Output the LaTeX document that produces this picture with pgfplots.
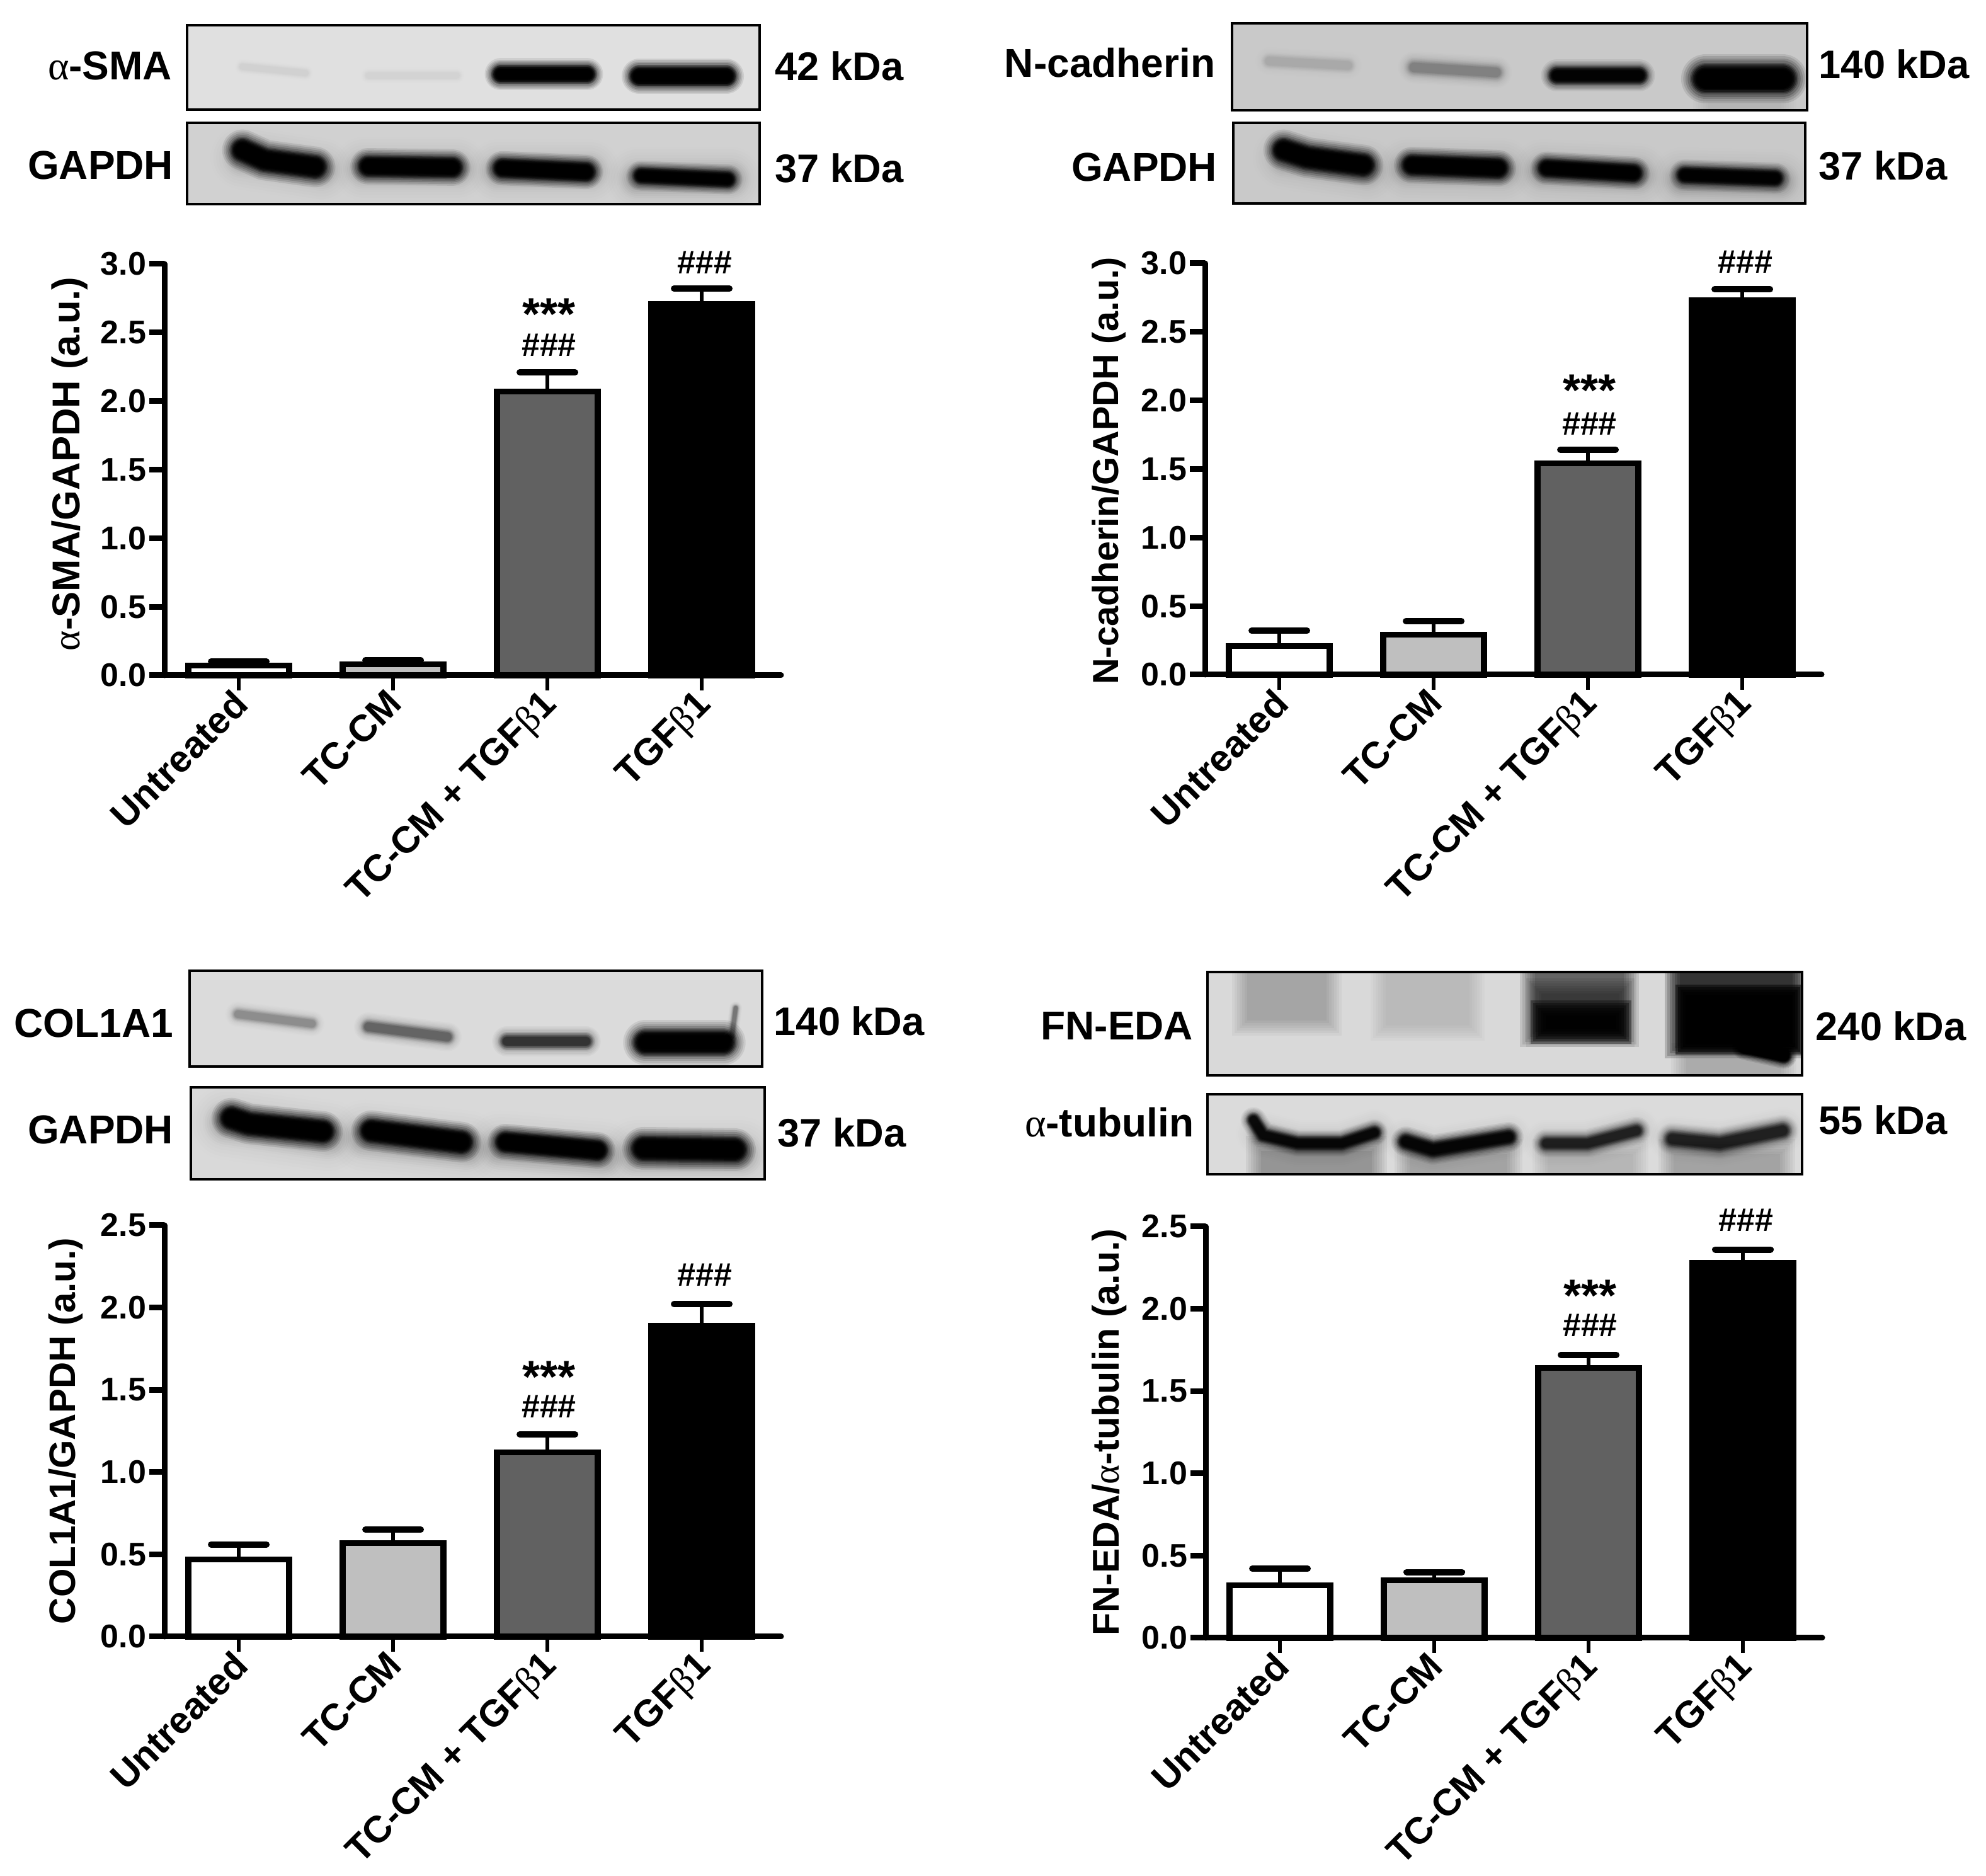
\documentclass[border=0pt]{standalone}
\usepackage{fontspec}
\setmainfont{Liberation Sans}
\newfontfamily\sym{Liberation Serif}
\usepackage{pgfplots}
\pgfplotsset{compat=1.18}
\newcommand\fs[1]{\fontsize{#1}{#1}\selectfont}
\newcommand\al{{\mdseries\sym α}}
\newcommand\be{{\mdseries\sym β}}
\pgfplotsset{
  panel/.style={
    scale only axis, width=244.75pt, height=163.25pt,
    xmin=-0.482, xmax=3.514, ymin=0, clip=false, axis on top,
    anchor=south west,
    axis x line*=bottom, axis y line*=left,
    axis line style={line width=2.25pt, line cap=round, -},
    tick align=outside, major tick length=6pt,
    xtick={0,1,2,3},
    xticklabels={Untreated,TC-CM,TC-CM + TGF\be1,TGF\be1},
    xtick style={line width=1.5pt,black},
    ytick style={line width=2.25pt,black},
    tick pos=left,
    xticklabel style={rotate=45, anchor=north east, font=\bfseries\fs{14.9pt}, inner sep=0pt, xshift=-1.25pt, yshift=3.25pt},
    yticklabel style={font=\bfseries\fs{13pt}, inner sep=0pt, xshift=-1pt,
      /pgf/number format/.cd, fixed, fixed zerofill, precision=1, assume math mode=true},
    ylabel style={anchor=center, inner sep=0pt},
  },
  barp/.style={ybar, bar shift=0pt, bar width=40pt, draw=black, line width=2.3pt,
    error bars/y dir=plus, error bars/y explicit,
    error bars/error bar style={line width=1.5pt,black},
    error bars/error mark options={rotate=90, mark size=11pt, line width=2.5pt, line cap=round, black}},
}
\newcommand\bars[8]{%
  \addplot[barp,fill=white] coordinates {(0,#1) +- (0,#2)};
  \addplot[barp,fill=black!25] coordinates {(1,#3) +- (0,#4)};
  \addplot[barp,fill=black!62] coordinates {(2,#5) +- (0,#6)};
  \addplot[barp,fill=black] coordinates {(3,#7) +- (0,#8)};
}
\newcommand\sig[3]{%
  \node[font=\bfseries\fs{18pt},inner sep=0pt,yshift=-2.6pt] at (axis cs:2.01,#1) {***};
  \node[font=\bfseries\fs{13pt},inner sep=0pt] at (axis cs:2.01,#2) {\#\#\#};
  \node[font=\bfseries\fs{13pt},inner sep=0pt] at (axis cs:3.02,#3) {\#\#\#};
}
% soft-edged smear: outer layers faint, inner layers strong
\newcommand\band[4][round]{%
  \foreach \k/\o in {1.7/.08,1.55/.1,1.4/.12,1.25/.16,1.1/.22,1.0/.3,.9/.4,.8/.5,.7/.6,.6/.7,.5/.8}{%
    \pgfmathsetmacro\oo{min(1,\o*#4*2)}%
    \draw[black,line width=\k*#3*0.25pt,opacity=\oo,line cap=#1,line join=round] #2;}%
}
% soft-edged rectangular lane
\newcommand\lane[5]{%
  \foreach \d in {12,8,4,0,-4,-8,-12}{%
    \fill[black,opacity=#5] ({#1-\d},{#2-\d}) rectangle ({#3+\d},{#4+\d});}%
}
\newcommand\blot[6]{%
  \begin{scope}
    \clip (#1,#2) rectangle (#3,#4);
    \fill[#5] (#1,#2) rectangle (#3,#4);
    #6
  \end{scope}
  \draw[line width=1.1pt] (#1,#2) rectangle (#3,#4);
}
\newcommand\lab[3]{\node[anchor=east,font=\bfseries\fs{16pt},inner sep=0pt,xshift=0.75pt] at (#1,#2) {#3};}
\newcommand\kda[3]{\node[anchor=west,font=\bfseries\fs{15.8pt},inner sep=0pt] at (#1,#2) {#3};}
\begin{document}
\begin{tikzpicture}
\path[use as bounding box] (0,0) rectangle (788.25pt,744.5pt);
\begin{scope}[x=0.25pt,y=-0.25pt,yshift=744.5pt]
% --- panel A blots
\blot{297}{40}{1206}{174}{black!12}{%
  \band{(385,106)--(485,116)}{20}{.008}
  \band{(585,120)--(725,120)}{20}{.007}
  \band{(795,118)--(932,118)}{30}{.5}
  \band{(1015,121)--(1153,121)}{33}{.55}
}
\blot{297}{195}{1206}{324}{black!18}{%
  \band{(385,250)--(510,270)}{60}{.03}\band{(578,268)--(725,268)}{60}{.03}
  \band{(792,272)--(935,272)}{60}{.03}\band{(1012,284)--(1160,284)}{60}{.03}
  \band{(385,238)--(420,254)--(500,265)}{38}{.55}
  \band{(585,264)--(718,266)}{34}{.55}
  \band{(798,267)--(930,273)}{32}{.55}
  \band{(1018,279)--(1155,285)}{28}{.45}
}
\lab{271}{105}{\al-SMA}
\kda{1230}{105}{42 kDa}
\lab{273}{263}{GAPDH}
\kda{1230}{267}{37 kDa}
% --- panel B blots
\blot{1956}{37}{2869}{175}{black!21}{%
  \band{(2015,97)--(2140,104)}{26}{.018}
  \band{(2245,107)--(2375,115)}{30}{.05}
  \band{(2472,120)--(2602,120)}{30}{.4}
  \band{(2708,125)--(2830,125)}{46}{.6}
  \lane{2700}{150}{2840}{190}{.012}
}
\blot{1958}{195}{2866}{323}{black!21}{%
  \band{(2040,250)--(2170,270)}{60}{.03}\band{(2235,268)--(2385,270)}{60}{.03}
  \band{(2450,272)--(2600,278)}{60}{.03}\band{(2670,285)--(2825,288)}{60}{.03}
  \band{(2038,238)--(2075,250)--(2164,262)}{38}{.55}
  \band{(2242,262)--(2378,267)}{34}{.55}
  \band{(2456,267)--(2593,275)}{31}{.5}
  \band{(2675,278)--(2818,283)}{29}{.42}
}
\lab{1927}{100}{N-cadherin}
\kda{2887}{102}{140 kDa}
\lab{1930}{265}{GAPDH}
\kda{2887}{263}{37 kDa}
% --- panel C blots
\blot{301}{1541}{1210}{1693}{black!14}{%
  \band{(378,1610)--(495,1625)}{24}{.05}
  \band{(585,1630)--(710,1646)}{27}{.09}
  \band{(805,1653)--(930,1653)}{28}{.16}
  \band{(1025,1655)--(1148,1655)}{42}{.5}
  \band{(1162,1645)--(1168,1600)}{12}{.07}
}
\blot{303}{1726}{1214}{1872}{black!15}{%
  \band{(360,1782)--(520,1805)}{70}{.03}\band{(580,1805)--(740,1822)}{70}{.03}
  \band{(795,1822)--(955,1835)}{70}{.03}\band{(1012,1832)--(1175,1832)}{70}{.03}
  \band{(368,1775)--(395,1784)--(512,1796)}{38}{.6}
  \band{(590,1795)--(732,1813)}{38}{.6}
  \band{(803,1813)--(948,1826)}{34}{.6}
  \band{(1022,1823)--(1166,1825)}{40}{.6}
}
\lab{273}{1624}{COL1A1}
\kda{1228}{1621}{140 kDa}
\lab{273}{1793}{GAPDH}
\kda{1234}{1798}{37 kDa}
% --- panel D blots
\blot{1917}{1543}{2861}{1707}{black!15}{%
  \lane{1968}{1525}{2118}{1632}{.036}
  \lane{2188}{1530}{2345}{1640}{.021}
  \lane{2425}{1525}{2590}{1650}{.10}
  \lane{2435}{1565}{2583}{1650}{.07}
  \lane{2442}{1600}{2578}{1645}{.35}
  \lane{2655}{1525}{2858}{1668}{.18}
  \lane{2672}{1575}{2850}{1662}{.5}
  \band{(2770,1662)--(2832,1676)}{24}{.6}
  \lane{2665}{1668}{2840}{1725}{.03}
}
\blot{1917}{1737}{2861}{1864}{black!14}{%
  \lane{1990}{1815}{2190}{1885}{.05}
  \lane{2226}{1820}{2405}{1885}{.04}
  \lane{2445}{1820}{2605}{1885}{.025}
  \lane{2645}{1820}{2838}{1885}{.04}
  \band{(2000,1800)--(2060,1815)--(2130,1815)--(2182,1798)}{44}{.03}
  \band{(2232,1812)--(2275,1825)--(2395,1805)}{44}{.03}
  \band{(2455,1815)--(2520,1815)--(2598,1795)}{44}{.03}
  \band{(2655,1808)--(2730,1815)--(2830,1795)}{44}{.03}
  \band{(1990,1778)--(2005,1802)--(2060,1815)--(2130,1815)--(2182,1798)}{24}{.3}
  \band{(2232,1812)--(2275,1825)--(2395,1805)}{28}{.32}
  \band{(2455,1815)--(2520,1815)--(2598,1795)}{26}{.18}
  \band{(2655,1808)--(2730,1815)--(2830,1795)}{30}{.18}
}
\lab{1892}{1629}{FN-EDA}
\kda{2882}{1629}{240 kDa}
\lab{1893}{1782}{\al-tubulin}
\kda{2887}{1778}{55 kDa}
\end{scope}
% --- panel A
\begin{axis}[panel, at={(65.25pt,476.5pt)}, ymax=3, ytick={0,0.5,1,1.5,2,2.5,3},
  ylabel={\al-SMA/GAPDH (a.u.)}, ylabel style={font=\bfseries\fs{15.4pt},at={(rel axis cs:-0.154,0.514)}}]
  \bars{0.07}{0.03}{0.08}{0.03}{2.07}{0.14}{2.71}{0.11}
  \sig{2.68}{2.41}{3.01}
\end{axis}
% --- panel B
\begin{axis}[panel, at={(478.25pt,476.75pt)}, ymax=3, ytick={0,0.5,1,1.5,2,2.5,3},
  ylabel={N-cadherin/GAPDH (a.u.)}, ylabel style={font=\bfseries\fs{14.4pt},at={(rel axis cs:-0.156,0.495)}}]
  \bars{0.21}{0.11}{0.29}{0.10}{1.54}{0.10}{2.73}{0.08}
  \sig{2.12}{1.83}{3.01}
\end{axis}
% --- panel C
\begin{axis}[panel, at={(65.25pt,95pt)}, ymax=2.5, ytick={0,0.5,1,1.5,2,2.5},
  ylabel={COL1A1/GAPDH (a.u.)}, ylabel style={font=\bfseries\fs{14.6pt},at={(rel axis cs:-0.16,0.5)}}]
  \bars{0.47}{0.09}{0.57}{0.08}{1.12}{0.11}{1.89}{0.13}
  \sig{1.62}{1.40}{2.20}
\end{axis}
% --- panel D
\begin{axis}[panel, at={(478.5pt,94.5pt)}, ymax=2.5, ytick={0,0.5,1,1.5,2,2.5},
  ylabel={FN-EDA/\al-tubulin (a.u.)}, ylabel style={font=\bfseries\fs{14.8pt},at={(rel axis cs:-0.156,0.5)}}]
  \bars{0.32}{0.10}{0.35}{0.05}{1.64}{0.08}{2.28}{0.08}
  \sig{2.12}{1.90}{2.54}
\end{axis}
\end{tikzpicture}
\end{document}
